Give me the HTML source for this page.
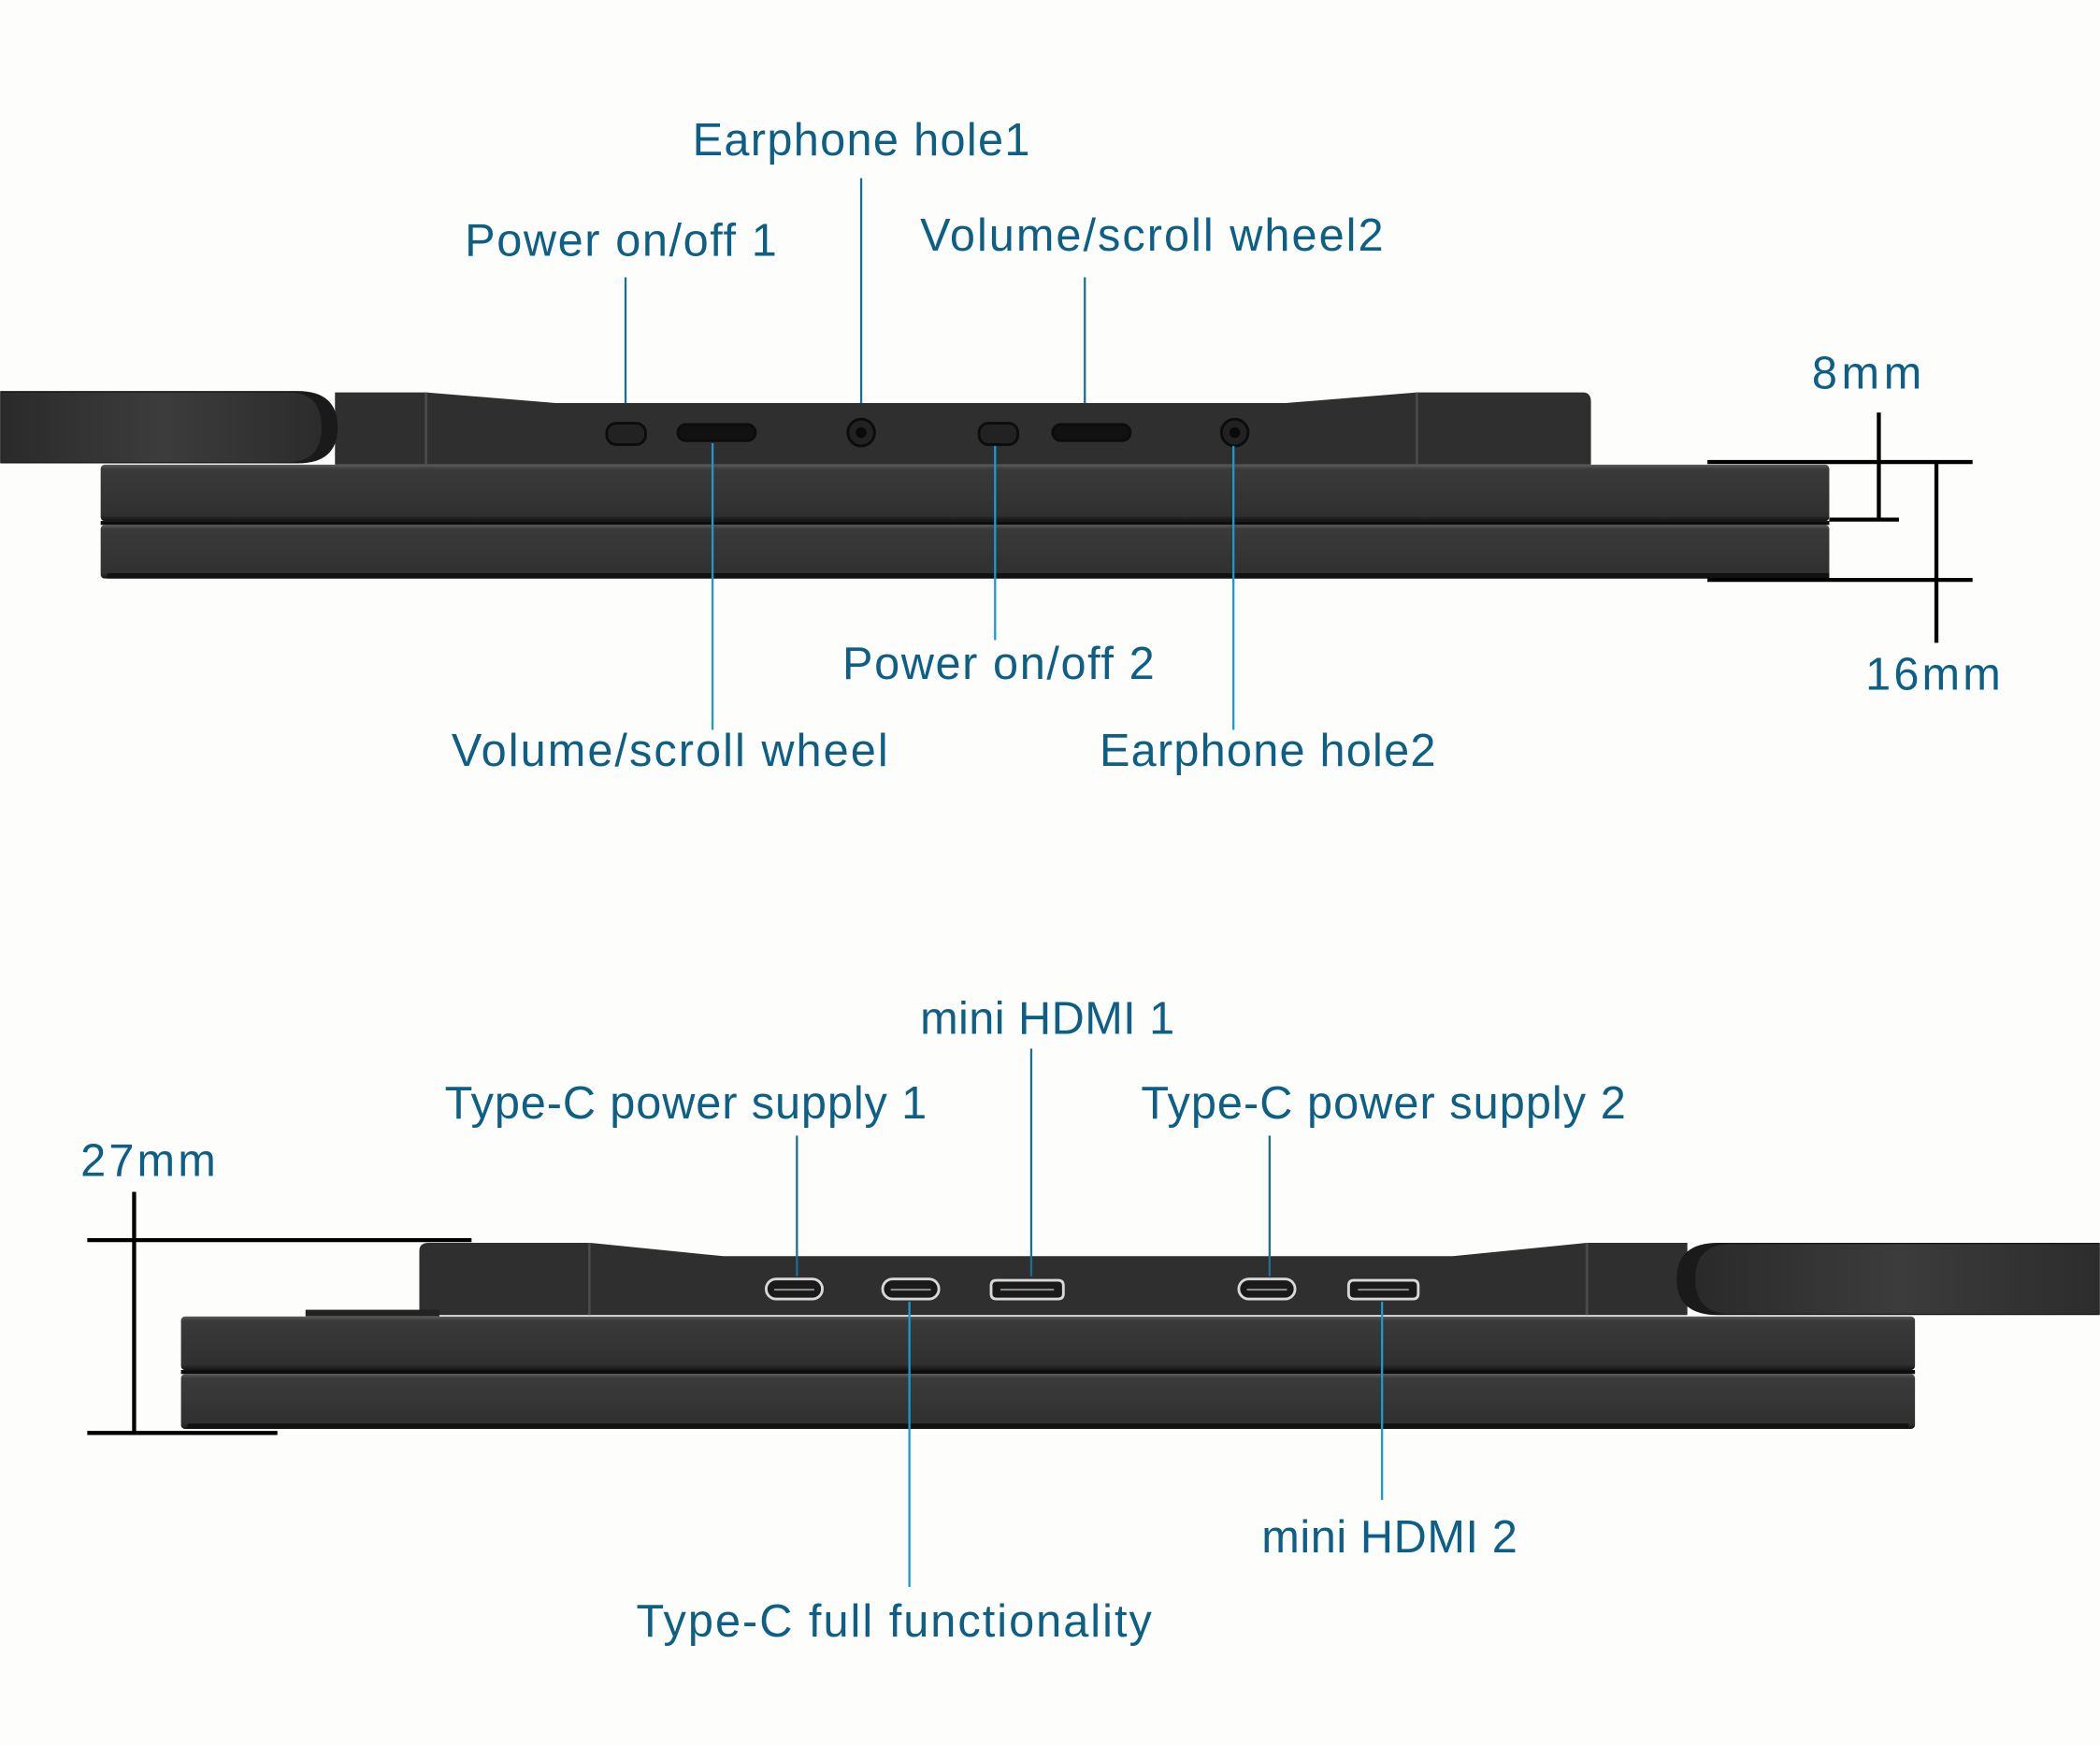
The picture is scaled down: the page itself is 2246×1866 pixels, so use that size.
<!DOCTYPE html>
<html><head><meta charset="utf-8"><style>
html,body{margin:0;padding:0;background:#fdfdfb;}
svg{display:block}
text{font-family:"Liberation Sans",sans-serif;font-size:34px;fill:#0d5f86;}
</style></head><body>
<svg width="2246" height="1866" viewBox="0 0 1568 1303" xmlns="http://www.w3.org/2000/svg">
<defs>
<linearGradient id="pan" x1="0" y1="0" x2="0" y2="1">
<stop offset="0" stop-color="#5a5a5a"/><stop offset="0.08" stop-color="#3a3a3a"/><stop offset="0.9" stop-color="#303030"/><stop offset="1" stop-color="#151515"/></linearGradient>
<linearGradient id="kick" x1="0" y1="0" x2="1" y2="0">
<stop offset="0" stop-color="#2a2a2a"/><stop offset="0.5" stop-color="#3c3c3c"/><stop offset="1" stop-color="#2c2c2c"/></linearGradient>
</defs>
<rect width="1568" height="1303" fill="#fdfdfb"/>

<!-- TOP DEVICE -->
<path d="M250,293 L318,293 L415,301 L960,301 L1058,293 L1182,293 Q1188,293 1188,300 L1188,347 L250,347 Z" fill="#2f2f2f"/>
<path d="M318,293 L318,347 M1058,293 L1058,347" stroke="#4a4a4a" stroke-width="2"/>
<path d="M0,292 L222,292 Q252,292 252,319 Q252,346 222,346 L0,346 Z" fill="#1a1a1a"/>
<path d="M0,293 L215,293 Q240,293 240,319 Q240,345 215,345 L0,345 Z" fill="url(#kick)"/>
<rect x="75" y="347" width="1291" height="42" rx="3" fill="url(#pan)"/>
<rect x="75" y="389" width="1291" height="3" fill="#0d0d0d"/>
<rect x="75" y="392" width="1291" height="40" rx="3" fill="url(#pan)"/>
<rect x="80" y="428" width="1286" height="4" fill="#111"/>
<g fill="#222" stroke="#0c0c0c" stroke-width="2">
<rect x="453" y="316" width="29" height="16" rx="7"/>
<rect x="506" y="317" width="58" height="12" rx="6" fill="#111"/>
<circle cx="643" cy="323" r="10"/>
<rect x="731" y="316" width="29" height="16" rx="7"/>
<rect x="786" y="317" width="58" height="12" rx="6" fill="#111"/>
<circle cx="922" cy="323" r="10"/>
</g>
<circle cx="643" cy="323" r="4" fill="#0a0a0a"/><circle cx="922" cy="323" r="4" fill="#0a0a0a"/>

<g stroke="#1a6f95" stroke-width="1.6">
<line x1="467" y1="207" x2="467" y2="301"/>
<line x1="643" y1="133" x2="643" y2="301"/>
<line x1="810" y1="207" x2="810" y2="301"/>
</g>
<g stroke="#1b9ad0" stroke-width="1.6">
<line x1="532" y1="331" x2="532" y2="545"/>
<line x1="743" y1="333" x2="743" y2="478"/>
<line x1="921" y1="333" x2="921" y2="545"/>
</g>

<g stroke="#000" stroke-width="3">
<line x1="1275" y1="345" x2="1473" y2="345"/>
<line x1="1366" y1="388" x2="1418" y2="388"/>
<line x1="1275" y1="433" x2="1473" y2="433"/>
<line x1="1403" y1="308" x2="1403" y2="388"/>
<line x1="1446" y1="345" x2="1446" y2="480"/>
</g>

<text x="517" y="116" textLength="252">Earphone hole1</text>
<text x="347" y="191" textLength="233">Power on/off 1</text>
<text x="687" y="187" textLength="346">Volume/scroll wheel2</text>
<text x="1353" y="290" textLength="82">8mm</text>
<text x="629" y="507" textLength="233">Power on/off 2</text>
<text x="1393" y="515" textLength="101">16mm</text>
<text x="337" y="572" textLength="326">Volume/scroll wheel</text>
<text x="821" y="572" textLength="251">Earphone hole2</text>

<!-- BOTTOM DEVICE -->
<path d="M313,934 Q313,928 320,928 L440,928 L540,938 L1085,938 L1185,928 L1260,928 L1260,982 L313,982 Z" fill="#2f2f2f"/>
<path d="M440,928 L440,982 M1185,928 L1185,982" stroke="#4a4a4a" stroke-width="2"/>
<path d="M1568,928 L1283,928 Q1252,928 1252,955 Q1252,982 1283,982 L1568,982 Z" fill="#1a1a1a"/>
<path d="M1568,929 L1292,929 Q1266,929 1266,955 Q1266,981 1292,981 L1568,981 Z" fill="url(#kick)"/>
<rect x="228" y="978" width="100" height="5" fill="#222"/>
<rect x="135" y="983" width="1295" height="40" rx="3" fill="url(#pan)"/>
<rect x="135" y="1023" width="1295" height="3" fill="#0d0d0d"/>
<rect x="135" y="1026" width="1295" height="41" rx="3" fill="url(#pan)"/>
<rect x="140" y="1063" width="1285" height="4" fill="#111"/>
<g fill="#1a1a1a" stroke="#d8d8d8" stroke-width="2">
<rect x="572" y="955" width="42" height="15" rx="7.5"/>
<rect x="659" y="955" width="42" height="15" rx="7.5"/>
<path d="M744,956 L790,956 Q794,956 794,960 L794,966 Q794,970 790,970 L744,970 Q740,970 740,966 L740,960 Q740,956 744,956 Z"/>
<rect x="925" y="955" width="42" height="15" rx="7.5"/>
<path d="M1011,956 L1055,956 Q1059,956 1059,960 L1059,966 Q1059,970 1055,970 L1011,970 Q1007,970 1007,966 L1007,960 Q1007,956 1011,956 Z"/>
</g>
<g stroke="#888" stroke-width="1.5">
<line x1="578" y1="963" x2="608" y2="963"/><line x1="665" y1="963" x2="695" y2="963"/>
<line x1="747" y1="963" x2="787" y2="963"/><line x1="931" y1="963" x2="961" y2="963"/>
<line x1="1014" y1="963" x2="1052" y2="963"/>
</g>

<g stroke="#1a6f95" stroke-width="1.6">
<line x1="595" y1="848" x2="595" y2="953"/>
<line x1="770" y1="783" x2="770" y2="953"/>
<line x1="948" y1="848" x2="948" y2="953"/>
</g>
<g stroke="#1b9ad0" stroke-width="1.6">
<line x1="679" y1="972" x2="679" y2="1185"/>
<line x1="1032" y1="972" x2="1032" y2="1120"/>
</g>

<g stroke="#000" stroke-width="3">
<line x1="65" y1="926" x2="352" y2="926"/>
<line x1="65" y1="1070" x2="207" y2="1070"/>
<line x1="100" y1="890" x2="100" y2="1070"/>
</g>

<text x="687" y="772" textLength="190">mini HDMI 1</text>
<text x="332" y="835" textLength="360">Type-C power supply 1</text>
<text x="852" y="835" textLength="362">Type-C power supply 2</text>
<text x="60" y="878" textLength="101">27mm</text>
<text x="942" y="1159" textLength="191">mini HDMI 2</text>
<text x="475" y="1222" textLength="385">Type-C full functionality</text>
</svg>
</body></html>
